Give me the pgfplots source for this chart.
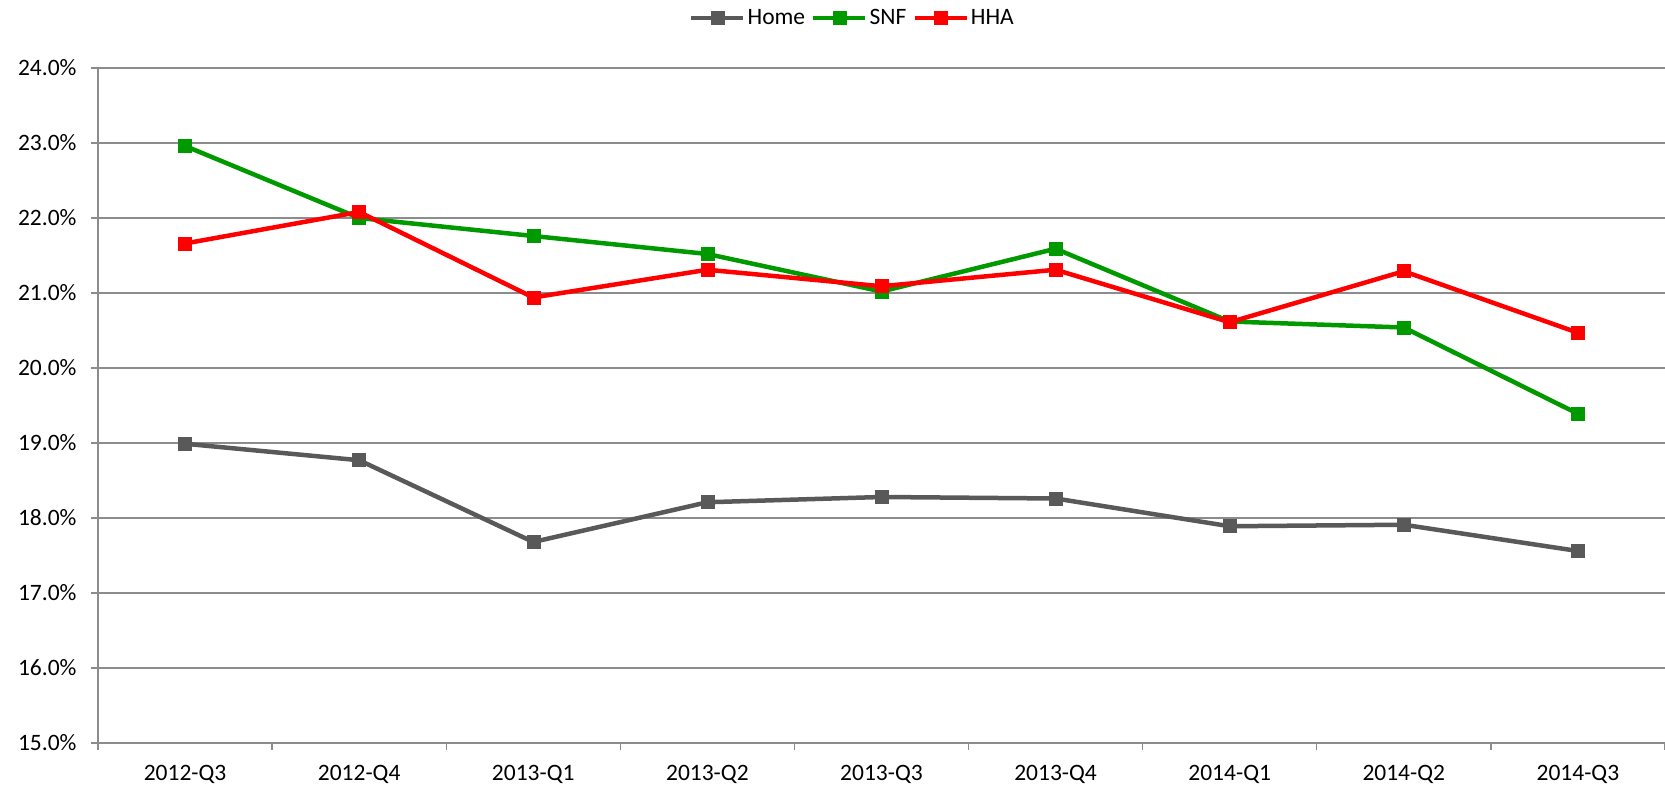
\documentclass[border=0pt]{standalone}
\usepackage{pgfplots}
\pgfplotsset{compat=1.18}
\usepackage{fontspec}
\setmainfont{Carlito}
\definecolor{cHome}{RGB}{89,89,89}
\definecolor{cSNF}{RGB}{0,153,0}
\definecolor{cHHA}{RGB}{255,0,0}
\definecolor{cGrid}{RGB}{140,140,140}
\begin{document}
\begin{tikzpicture}
\begin{axis}[
  at={(0pt,0pt)}, anchor=south west,
  scale only axis, width=1567pt, height=675pt,
  xmin=-0.5, xmax=8.5, ymin=15, ymax=24,
  axis x line=bottom, axis y line=left,
  axis line style={-, draw=cGrid, line width=1.4pt},
  ytick={15,...,24},
  ymajorgrids, major grid style={draw=cGrid, line width=1.4pt},
  xtick={0,...,8},
  xticklabels={2012-Q3,2012-Q4,2013-Q1,2013-Q2,2013-Q3,2013-Q4,2014-Q1,2014-Q2,2014-Q3},
  minor xtick={-0.5,0.5,...,8.5},
  major x tick style={draw=none},
  tick align=outside,
  major tick length=7pt, minor tick length=7pt,
  tick style={draw=cGrid, line width=1.4pt},
  tick label style={font=\fontsize{23.5}{28}\selectfont, text=black},
  yticklabel={\pgfmathprintnumber[fixed,fixed zerofill,precision=1,assume math mode=true]{\tick}\%},
  yticklabel style={xshift=-11pt},
  xticklabel style={yshift=-12pt},
  clip=false,
  legend style={at={(0.4815,1.074)}, anchor=center, draw=none, fill=none,
    legend columns=3, font=\fontsize{23.5}{28}\selectfont,
    /tikz/every even column/.append style={column sep=4pt}},
  legend image code/.code={\draw[mark repeat=2,mark phase=2,#1] plot coordinates {(0pt,0pt) (26pt,0pt) (52pt,0pt)};},
  every axis plot/.append style={line width=4.5pt, mark=square*, mark size=6.5pt, mark options={solid, line width=0.5pt}},
]
\addplot[cHome] coordinates {(0,18.99) (1,18.77) (2,17.68) (3,18.21) (4,18.28) (5,18.26) (6,17.89) (7,17.91) (8,17.56)};
\addlegendentry{Home}
\addplot[cSNF] coordinates {(0,22.96) (1,22.00) (2,21.76) (3,21.52) (4,21.02) (5,21.59) (6,20.62) (7,20.54) (8,19.39)};
\addlegendentry{SNF}
\addplot[cHHA] coordinates {(0,21.66) (1,22.08) (2,20.94) (3,21.31) (4,21.09) (5,21.31) (6,20.61) (7,21.29) (8,20.47)};
\addlegendentry{HHA}
\end{axis}
\pgfresetboundingbox
\path (-98pt,-46pt) rectangle (1567pt,743pt);
\end{tikzpicture}
\end{document}
